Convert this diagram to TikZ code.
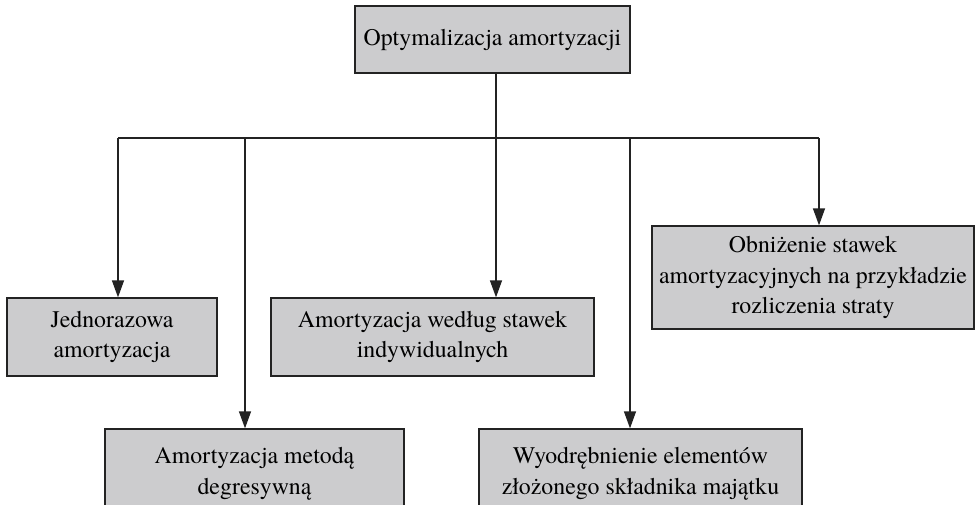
\documentclass[tikz,border=0pt]{standalone}
\usepackage{fontspec}
\setmainfont{texgyretermes-regular.otf}
\usetikzlibrary{arrows.meta}
\definecolor{boxfill}{RGB}{204,204,206}
\definecolor{linecol}{RGB}{35,35,35}
\begin{document}
\begin{tikzpicture}[x=1pt,y=-1pt,
  box/.style={draw=linecol,fill=boxfill,line width=1.3pt,rectangle,inner sep=0pt,align=center,
    font=\fontsize{23.8pt}{30.5pt}\selectfont},
  conn/.style={draw=linecol,line width=1.3pt},
  arr/.style={conn,-{Triangle[length=17pt,width=12pt]}}]
\clip (0,0) rectangle (975,504);
\fill[white] (0,0) rectangle (975,504);
\node[box,minimum width=275pt,minimum height=67pt] (top) at (492.5,39.5) {Optymalizacja amortyzacji};
\node[box,minimum width=210pt,minimum height=78pt] (jed) at (112,337) {Jednorazowa\\amortyzacja};
\node[box,minimum width=323pt,minimum height=78pt] (wed) at (432.5,337) {Amortyzacja według stawek\\indywidualnych};
\node[box,minimum width=322pt,minimum height=103pt] (obn) at (813,277.5) {Obniżenie stawek\\amortyzacyjnych na przykładzie\\rozliczenia straty};
\node[box,minimum width=299pt,minimum height=90pt] (deg) at (254.5,474) {Amortyzacja metodą\\degresywną};
\node[box,minimum width=323pt,minimum height=90pt] (wyo) at (640.5,474) {Wyodrębnienie elementów\\złożonego składnika majątku};
\coordinate (hub) at (496,138);
\coordinate (b1) at (118,138);
\coordinate (b2) at (245,138);
\coordinate (b4) at (630,138);
\coordinate (b5) at (819,138);
\draw[conn] (top.south -| hub) -- (hub);
\draw[conn] (b1) -- (b5);
\draw[arr] (b1) -- (b1 |- jed.north);
\draw[arr] (b2) -- (b2 |- deg.north);
\draw[arr] (hub) -- (hub |- wed.north);
\draw[arr] (b4) -- (b4 |- wyo.north);
\draw[arr] (b5) -- (b5 |- obn.north);
\end{tikzpicture}
\end{document}
